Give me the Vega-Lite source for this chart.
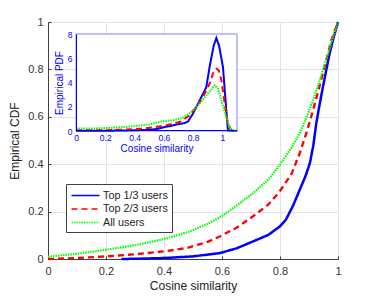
{
  "$schema": "https://vega.github.io/schema/vega-lite/v6.json",
  "width": 290,
  "height": 237,
  "autosize": "none",
  "padding": {"left": 48, "top": 22, "right": 36, "bottom": 38},
  "background": "white",
  "config": {
    "font": "Liberation Sans",
    "view": {"stroke": "#404040", "strokeWidth": 1},
    "legend": {
      "orient": "none", "legendX": 18, "legendY": 162,
      "fillColor": "white", "strokeColor": "#404040", "padding": 4,
      "labelFontSize": 10.8, "labelColor": "#222", "symbolType": "M-2.15,0H2.15",
      "symbolSize": 169, "symbolStrokeWidth": 1.5, "rowPadding": 0.5,
      "symbolOffset": 8, "labelOffset": 10
    }
  },
  "datasets": {
    "cdf": [
      {"series": "Top 1/3 users", "x": 0.253, "y": 0},
      {"series": "Top 1/3 users", "x": 0.3, "y": 0.001},
      {"series": "Top 1/3 users", "x": 0.4, "y": 0.004},
      {"series": "Top 1/3 users", "x": 0.5, "y": 0.011},
      {"series": "Top 1/3 users", "x": 0.593, "y": 0.025},
      {"series": "Top 1/3 users", "x": 0.65, "y": 0.045},
      {"series": "Top 1/3 users", "x": 0.707, "y": 0.074},
      {"series": "Top 1/3 users", "x": 0.76, "y": 0.102},
      {"series": "Top 1/3 users", "x": 0.799, "y": 0.137},
      {"series": "Top 1/3 users", "x": 0.82, "y": 0.165},
      {"series": "Top 1/3 users", "x": 0.845, "y": 0.225},
      {"series": "Top 1/3 users", "x": 0.868, "y": 0.292},
      {"series": "Top 1/3 users", "x": 0.888, "y": 0.35},
      {"series": "Top 1/3 users", "x": 0.903, "y": 0.404},
      {"series": "Top 1/3 users", "x": 0.915, "y": 0.48},
      {"series": "Top 1/3 users", "x": 0.925, "y": 0.572},
      {"series": "Top 1/3 users", "x": 0.937, "y": 0.655},
      {"series": "Top 1/3 users", "x": 0.948, "y": 0.726},
      {"series": "Top 1/3 users", "x": 0.96, "y": 0.8},
      {"series": "Top 1/3 users", "x": 0.971, "y": 0.867},
      {"series": "Top 1/3 users", "x": 0.985, "y": 0.935},
      {"series": "Top 1/3 users", "x": 1, "y": 1},
      {"series": "Top 2/3 users", "x": 0, "y": 0},
      {"series": "Top 2/3 users", "x": 0.1, "y": 0.004},
      {"series": "Top 2/3 users", "x": 0.2, "y": 0.011},
      {"series": "Top 2/3 users", "x": 0.3, "y": 0.02},
      {"series": "Top 2/3 users", "x": 0.4, "y": 0.032},
      {"series": "Top 2/3 users", "x": 0.477, "y": 0.046},
      {"series": "Top 2/3 users", "x": 0.55, "y": 0.072},
      {"series": "Top 2/3 users", "x": 0.592, "y": 0.095},
      {"series": "Top 2/3 users", "x": 0.65, "y": 0.132},
      {"series": "Top 2/3 users", "x": 0.707, "y": 0.18},
      {"series": "Top 2/3 users", "x": 0.76, "y": 0.23},
      {"series": "Top 2/3 users", "x": 0.799, "y": 0.285},
      {"series": "Top 2/3 users", "x": 0.84, "y": 0.36},
      {"series": "Top 2/3 users", "x": 0.868, "y": 0.446},
      {"series": "Top 2/3 users", "x": 0.892, "y": 0.535},
      {"series": "Top 2/3 users", "x": 0.914, "y": 0.628},
      {"series": "Top 2/3 users", "x": 0.932, "y": 0.71},
      {"series": "Top 2/3 users", "x": 0.948, "y": 0.783},
      {"series": "Top 2/3 users", "x": 0.963, "y": 0.855},
      {"series": "Top 2/3 users", "x": 0.977, "y": 0.923},
      {"series": "Top 2/3 users", "x": 1, "y": 1},
      {"series": "All users", "x": 0, "y": 0.01},
      {"series": "All users", "x": 0.1, "y": 0.022},
      {"series": "All users", "x": 0.2, "y": 0.039},
      {"series": "All users", "x": 0.3, "y": 0.058},
      {"series": "All users", "x": 0.4, "y": 0.084},
      {"series": "All users", "x": 0.489, "y": 0.116},
      {"series": "All users", "x": 0.55, "y": 0.148},
      {"series": "All users", "x": 0.598, "y": 0.18},
      {"series": "All users", "x": 0.65, "y": 0.225},
      {"series": "All users", "x": 0.707, "y": 0.278},
      {"series": "All users", "x": 0.76, "y": 0.335},
      {"series": "All users", "x": 0.799, "y": 0.397},
      {"series": "All users", "x": 0.84, "y": 0.47},
      {"series": "All users", "x": 0.868, "y": 0.53},
      {"series": "All users", "x": 0.892, "y": 0.6},
      {"series": "All users", "x": 0.914, "y": 0.67},
      {"series": "All users", "x": 0.932, "y": 0.735},
      {"series": "All users", "x": 0.948, "y": 0.797},
      {"series": "All users", "x": 0.966, "y": 0.868},
      {"series": "All users", "x": 0.983, "y": 0.937},
      {"series": "All users", "x": 1, "y": 1}
    ],
    "pdf": [
      {"series": "Top 1/3 users", "x": 0, "y": 0.02},
      {"series": "Top 1/3 users", "x": 0.2, "y": 0.02},
      {"series": "Top 1/3 users", "x": 0.4, "y": 0.06},
      {"series": "Top 1/3 users", "x": 0.5, "y": 0.1},
      {"series": "Top 1/3 users", "x": 0.55, "y": 0.16},
      {"series": "Top 1/3 users", "x": 0.606, "y": 0.33},
      {"series": "Top 1/3 users", "x": 0.65, "y": 0.42},
      {"series": "Top 1/3 users", "x": 0.686, "y": 0.53},
      {"series": "Top 1/3 users", "x": 0.74, "y": 0.65},
      {"series": "Top 1/3 users", "x": 0.765, "y": 0.78},
      {"series": "Top 1/3 users", "x": 0.799, "y": 1.43},
      {"series": "Top 1/3 users", "x": 0.845, "y": 2.53},
      {"series": "Top 1/3 users", "x": 0.89, "y": 3.6},
      {"series": "Top 1/3 users", "x": 0.913, "y": 5.3},
      {"series": "Top 1/3 users", "x": 0.94, "y": 7.0},
      {"series": "Top 1/3 users", "x": 0.959, "y": 7.67},
      {"series": "Top 1/3 users", "x": 0.978, "y": 7.0},
      {"series": "Top 1/3 users", "x": 1.004, "y": 5.28},
      {"series": "Top 1/3 users", "x": 1.027, "y": 1.7},
      {"series": "Top 1/3 users", "x": 1.038, "y": 0.05},
      {"series": "Top 1/3 users", "x": 1.1, "y": 0},
      {"series": "Top 2/3 users", "x": 0, "y": 0.05},
      {"series": "Top 2/3 users", "x": 0.2, "y": 0.07},
      {"series": "Top 2/3 users", "x": 0.344, "y": 0.12},
      {"series": "Top 2/3 users", "x": 0.45, "y": 0.2},
      {"series": "Top 2/3 users", "x": 0.526, "y": 0.3},
      {"series": "Top 2/3 users", "x": 0.617, "y": 0.47},
      {"series": "Top 2/3 users", "x": 0.708, "y": 0.74},
      {"series": "Top 2/3 users", "x": 0.777, "y": 1.3},
      {"series": "Top 2/3 users", "x": 0.822, "y": 1.98},
      {"series": "Top 2/3 users", "x": 0.867, "y": 2.8},
      {"series": "Top 2/3 users", "x": 0.913, "y": 3.9},
      {"series": "Top 2/3 users", "x": 0.94, "y": 4.9},
      {"series": "Top 2/3 users", "x": 0.959, "y": 5.15},
      {"series": "Top 2/3 users", "x": 0.975, "y": 5.0},
      {"series": "Top 2/3 users", "x": 0.993, "y": 4.2},
      {"series": "Top 2/3 users", "x": 1.016, "y": 2.26},
      {"series": "Top 2/3 users", "x": 1.038, "y": 0.6},
      {"series": "Top 2/3 users", "x": 1.06, "y": 0.05},
      {"series": "Top 2/3 users", "x": 1.1, "y": 0},
      {"series": "All users", "x": 0, "y": 0.2},
      {"series": "All users", "x": 0.116, "y": 0.2},
      {"series": "All users", "x": 0.344, "y": 0.33},
      {"series": "All users", "x": 0.503, "y": 0.55},
      {"series": "All users", "x": 0.594, "y": 0.82},
      {"series": "All users", "x": 0.663, "y": 0.88},
      {"series": "All users", "x": 0.731, "y": 1.1},
      {"series": "All users", "x": 0.788, "y": 1.57},
      {"series": "All users", "x": 0.845, "y": 2.26},
      {"series": "All users", "x": 0.9, "y": 3.08},
      {"series": "All users", "x": 0.947, "y": 3.77},
      {"series": "All users", "x": 0.97, "y": 3.5},
      {"series": "All users", "x": 0.993, "y": 2.53},
      {"series": "All users", "x": 1.027, "y": 1.15},
      {"series": "All users", "x": 1.05, "y": 0.2},
      {"series": "All users", "x": 1.08, "y": 0},
      {"series": "All users", "x": 1.1, "y": 0}
    ]
  },
  "layer": [
    {
      "data": {"name": "cdf"},
      "mark": {"type": "line", "strokeCap": "butt"},
      "encoding": {
        "x": {
          "field": "x", "type": "quantitative",
          "scale": {"domain": [0, 1], "nice": false, "zero": false},
          "axis": {
            "values": [0, 0.2, 0.4, 0.6, 0.8, 1], "format": ".1~f",
            "title": "Cosine similarity", "titleFontSize": 12, "titleFontWeight": "normal",
            "titleColor": "#222", "titlePadding": 4,
            "labelFontSize": 11, "labelColor": "#333", "labelPadding": 9,
            "tickSize": -3, "tickColor": "#404040", "domainColor": "#404040",
            "gridColor": "#e3e3e3", "labelFlush": false
          }
        },
        "y": {
          "field": "y", "type": "quantitative",
          "scale": {"domain": [0, 1], "nice": false, "zero": false},
          "axis": {
            "values": [0, 0.2, 0.4, 0.6, 0.8, 1], "format": ".1~f",
            "title": "Empirical CDF", "titleFontSize": 12, "titleFontWeight": "normal",
            "titleColor": "#222", "titlePadding": 6,
            "labelFontSize": 11, "labelColor": "#333", "labelPadding": 8,
            "tickSize": -3, "tickColor": "#404040", "domainColor": "#404040",
            "gridColor": "#e3e3e3", "labelFlush": false
          }
        },
        "color": {
          "field": "series", "type": "nominal",
          "scale": {"domain": ["Top 1/3 users", "Top 2/3 users", "All users"], "range": ["#0000ff", "#ff0000", "#00ff00"]},
          "legend": {"title": null}
        },
        "strokeDash": {
          "field": "series", "type": "nominal",
          "scale": {"domain": ["Top 1/3 users", "Top 2/3 users", "All users"], "range": [[1, 0], [6, 4], [1.5, 1]]},
          "legend": {"title": null}
        },
        "strokeWidth": {
          "field": "series", "type": "nominal",
          "scale": {"domain": ["Top 1/3 users", "Top 2/3 users", "All users"], "range": [2.5, 2.2, 1]},
          "legend": null
        },
        "order": {"field": "x", "type": "quantitative"}
      }
    },
    {
      "layer": [
        {
          "data": {"values": [{"box": "inset"}]},
          "mark": {"type": "rect", "fill": "white", "stroke": "#8080ff", "strokeWidth": 1},
          "encoding": {
            "x": {"datum": 0, "type": "quantitative"},
            "x2": {"datum": 1.1},
            "y": {"datum": 0, "type": "quantitative"},
            "y2": {"datum": 8}
          }
        },
        {
          "data": {"name": "pdf"},
          "mark": {"type": "line", "strokeCap": "butt"},
          "encoding": {
            "x": {
              "field": "x", "type": "quantitative",
              "scale": {"domain": [0, 1.1], "range": [28, 189], "nice": false, "zero": false},
              "axis": {
                "orient": "bottom", "offset": -129, "zindex": 1,
                "values": [0, 0.2, 0.4, 0.6, 0.8, 1], "format": ".1~f",
                "title": "Cosine similarity", "titleFontSize": 10, "titleFontWeight": "normal",
                "titleColor": "#0000ff", "titlePadding": 2,
                "labelFontSize": 8.5, "labelColor": "#0000ff", "labelPadding": 3,
                "ticks": false, "domainColor": "#0000ff", "gridColor": "#dcdcf8", "labelFlush": false
              }
            },
            "y": {
              "field": "y", "type": "quantitative",
              "scale": {"domain": [0, 8], "range": [109, 12], "nice": false, "zero": false},
              "axis": {
                "orient": "left", "offset": -28, "zindex": 1,
                "values": [0, 2, 4, 6, 8],
                "title": "Empirical PDF", "titleFontSize": 10, "titleFontWeight": "normal",
                "titleColor": "#0000ff", "titlePadding": 3,
                "labelFontSize": 8.5, "labelColor": "#0000ff", "labelPadding": 4,
                "ticks": false, "domainColor": "#0000ff", "gridColor": "#dcdcf8", "labelFlush": false
              }
            },
            "color": {"field": "series", "type": "nominal", "legend": {"title": null}},
            "strokeDash": {"field": "series", "type": "nominal", "legend": {"title": null}},
            "strokeWidth": {
              "field": "series", "type": "nominal",
              "scale": {"domain": ["Top 1/3 users", "Top 2/3 users", "All users"], "range": [2, 2, 2]},
              "legend": null
            },
            "order": {"field": "x", "type": "quantitative"}
          }
        }
      ]
    }
  ],
  "resolve": {"scale": {"x": "independent", "y": "independent", "strokeWidth": "independent"}, "axis": {"x": "independent", "y": "independent"}}
}
